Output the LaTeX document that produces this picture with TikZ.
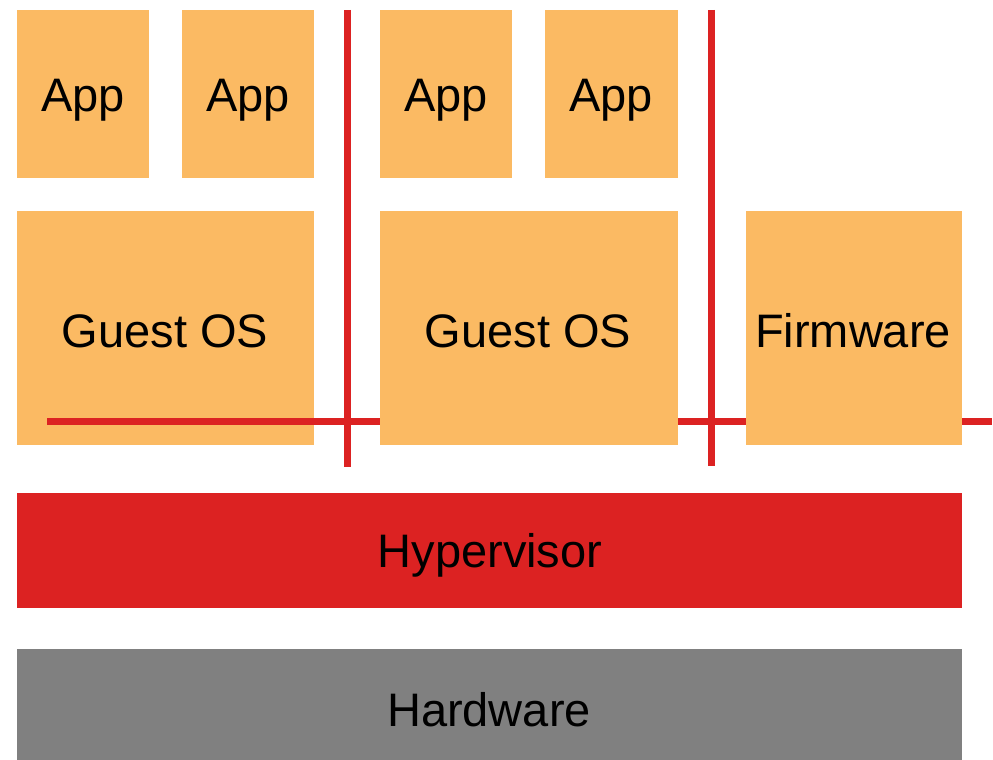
\documentclass[tikz,border=0pt]{standalone}
\usepackage{fontspec}
\setmainfont{Liberation Sans}
\definecolor{boxorange}{RGB}{251,186,99}
\definecolor{hypred}{RGB}{220,34,34}
\definecolor{hwgray}{RGB}{128,128,128}
\begin{document}
\begin{tikzpicture}[x=1pt,y=-1pt,
  blk/.style={inner sep=0pt,outer sep=0pt,font=\fontsize{47}{56}\selectfont},
  orangebox/.style={blk,fill=boxorange},
  sepline/.style={draw=hypred,line width=7pt}]
\useasboundingbox (0,0) rectangle (993,760);
% apps
\node[orangebox,minimum width=132pt,minimum height=168pt] (app1) at (83,94) {};
\node[blk] (app1t) at (83,100) {App};
\node[orangebox,minimum width=132pt,minimum height=168pt] (app2) at (248,94) {};
\node[blk] (app2t) at (248,100) {App};
\node[orangebox,minimum width=132pt,minimum height=168pt] (app3) at (446,94) {};
\node[blk] (app3t) at (446,100) {App};
\node[orangebox,minimum width=133pt,minimum height=168pt] (app4) at (611.5,94) {};
\node[blk] (app4t) at (611,100) {App};
% guest OS 1
\node[orangebox,minimum width=297pt,minimum height=234pt] (gos1) at (165.5,328) {};
\node[blk] (gos1t) at (165,331) {Guest OS};
% separator lines
\coordinate (hl) at (47,421.5);
\coordinate (hr) at (992,421.5);
\coordinate (v1t) at (347,10);
\coordinate (v1b) at (347,467);
\coordinate (v2t) at (711,10);
\coordinate (v2b) at (711,466);
\draw[sepline] (hl) -- (hr);
\draw[sepline] (v1t) -- (v1b);
\draw[sepline] (v2t) -- (v2b);
% guest OS 2 and firmware
\node[orangebox,minimum width=298pt,minimum height=234pt] (gos2) at (529,328) {};
\node[blk] (gos2t) at (528,331) {Guest OS};
\node[orangebox,minimum width=216pt,minimum height=234pt] (fw) at (854,328) {};
\node[blk] (fwt) at (853,331) {Firmware};
% hypervisor
\node[blk,fill=hypred,minimum width=945pt,minimum height=115pt] (hyp) at (489.5,550.5) {};
\node[blk] (hypt) at (490,555) {Hypervisor};
% hardware
\node[blk,fill=hwgray,minimum width=945pt,minimum height=111pt] (hw) at (489.5,704.5) {};
\node[blk] (hwt) at (489,710) {Hardware};
\end{tikzpicture}
\end{document}
